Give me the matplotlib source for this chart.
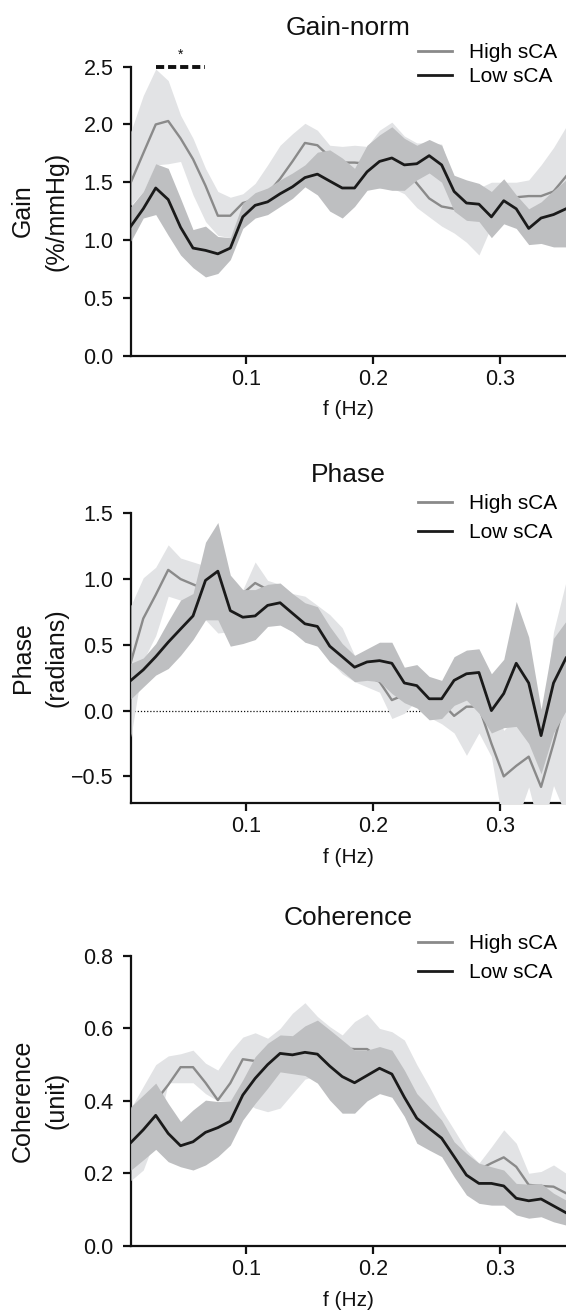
import matplotlib
matplotlib.use("Agg")
import matplotlib.pyplot as plt

plt.rcParams['font.family'] = ['Liberation Sans', 'DejaVu Sans']

# ---------------- data ----------------
freq = [0.0098, 0.0195, 0.0293, 0.0391, 0.0488, 0.0586, 0.0684, 0.0781, 0.0879,
        0.0977, 0.1074, 0.1172, 0.1270, 0.1367, 0.1465, 0.1563, 0.1660, 0.1758,
        0.1855, 0.1953, 0.2051, 0.2148, 0.2246, 0.2344, 0.2441, 0.2539, 0.2637,
        0.2734, 0.2832, 0.2930, 0.3027, 0.3125, 0.3223, 0.3320, 0.3418, 0.3516]

series_labels = ["High sCA", "Low sCA"]

# Gain-norm
gain_low = [1.12, 1.27, 1.45, 1.35, 1.11, 0.93, 0.91, 0.88, 0.93, 1.20, 1.30, 1.33,
            1.40, 1.46, 1.54, 1.57, 1.51, 1.45, 1.45, 1.59, 1.68, 1.71, 1.65, 1.66,
            1.73, 1.65, 1.42, 1.32, 1.31, 1.20, 1.34, 1.27, 1.10, 1.19, 1.22, 1.27]
gain_low_up = [1.29, 1.42, 1.66, 1.62, 1.36, 1.09, 1.12, 1.03, 1.02, 1.32, 1.41, 1.45,
               1.52, 1.58, 1.65, 1.76, 1.78, 1.71, 1.62, 1.82, 1.91, 1.98, 1.88, 1.82,
               1.87, 1.82, 1.56, 1.52, 1.49, 1.42, 1.53, 1.39, 1.27, 1.33, 1.43, 1.52]
gain_low_lo = [0.99, 1.19, 1.22, 1.04, 0.87, 0.76, 0.68, 0.71, 0.83, 1.10, 1.19, 1.22,
               1.29, 1.36, 1.46, 1.39, 1.25, 1.19, 1.29, 1.43, 1.45, 1.43, 1.43, 1.52,
               1.58, 1.50, 1.25, 1.17, 1.16, 1.02, 1.14, 1.10, 0.96, 0.97, 0.94, 0.94]
gain_high = [1.50, 1.75, 2.00, 2.03, 1.88, 1.70, 1.47, 1.21, 1.21, 1.32, 1.35, 1.40,
             1.53, 1.68, 1.84, 1.82, 1.72, 1.67, 1.67, 1.66, 1.68, 1.67, 1.62, 1.49,
             1.36, 1.29, 1.27, 1.26, 1.27, 1.30, 1.33, 1.37, 1.38, 1.38, 1.42, 1.55]
gain_high_up = [1.94, 2.25, 2.48, 2.38, 2.08, 1.88, 1.62, 1.42, 1.37, 1.40, 1.49, 1.65,
                1.82, 1.92, 2.01, 1.95, 1.82, 1.81, 1.82, 1.81, 1.95, 2.02, 1.90, 1.84,
                1.84, 1.83, 1.50, 1.47, 1.45, 1.50, 1.50, 1.50, 1.52, 1.65, 1.80, 1.98]
gain_high_lo = [1.30, 1.42, 1.65, 1.66, 1.68, 1.39, 1.16, 1.04, 1.02, 1.28, 1.35, 1.30,
                1.35, 1.45, 1.55, 1.55, 1.50, 1.48, 1.48, 1.47, 1.45, 1.45, 1.40, 1.28,
                1.20, 1.12, 1.06, 0.98, 0.87, 1.12, 1.18, 1.22, 1.22, 1.20, 1.20, 1.22]

# Phase
phase_low = [0.23, 0.31, 0.41, 0.52, 0.62, 0.72, 0.99, 1.06, 0.76, 0.71, 0.72, 0.80,
             0.82, 0.74, 0.66, 0.64, 0.49, 0.41, 0.33, 0.37, 0.38, 0.36, 0.21, 0.19,
             0.09, 0.09, 0.23, 0.28, 0.29, 0.00, 0.13, 0.36, 0.21, -0.19, 0.21, 0.40]
phase_low_up = [0.36, 0.40, 0.51, 0.68, 0.84, 0.89, 1.28, 1.43, 1.03, 0.92, 0.92, 0.96,
                0.97, 0.89, 0.82, 0.79, 0.64, 0.51, 0.42, 0.47, 0.52, 0.52, 0.33, 0.35,
                0.26, 0.23, 0.41, 0.46, 0.47, 0.28, 0.39, 0.83, 0.56, 0.01, 0.55, 0.68]
phase_low_lo = [0.09, 0.18, 0.27, 0.32, 0.42, 0.54, 0.69, 0.69, 0.49, 0.51, 0.54, 0.64,
                0.65, 0.60, 0.52, 0.49, 0.37, 0.30, 0.22, 0.23, 0.22, 0.13, 0.06, 0.02,
                -0.07, -0.06, 0.04, 0.08, -0.02, -0.17, -0.13, -0.12, -0.25, -0.48, -0.17, 0.00]
phase_high = [0.37, 0.70, 0.88, 1.07, 1.00, 0.96, 0.92, 0.87, 0.80, 0.89, 0.97, 0.92,
              0.82, 0.75, 0.68, 0.62, 0.50, 0.38, 0.30, 0.26, 0.22, 0.08, 0.12, 0.12,
              0.08, 0.06, -0.04, 0.03, 0.03, -0.25, -0.50, -0.42, -0.35, -0.58, -0.25, 0.10]
phase_high_up = [0.80, 1.01, 1.09, 1.26, 1.16, 1.13, 1.10, 1.00, 0.95, 0.92, 1.13, 0.99,
                 0.96, 0.89, 0.87, 0.80, 0.73, 0.63, 0.42, 0.40, 0.35, 0.30, 0.28, 0.25,
                 0.22, 0.20, 0.15, 0.18, 0.16, 0.05, -0.15, -0.05, 0.00, -0.15, 0.60, 0.98]
phase_high_lo = [-0.20, 0.38, 0.57, 0.87, 0.84, 0.80, 0.69, 0.59, 0.60, 0.70, 0.75, 0.70,
                 0.66, 0.60, 0.54, 0.49, 0.38, 0.28, 0.22, 0.18, 0.14, -0.06, -0.02, 0.08,
                 -0.05, -0.10, -0.17, -0.34, -0.17, -0.35, -0.90, -0.85, -0.58, -0.95, -0.57, -0.80]

# Coherence
coh_low = [0.285, 0.32, 0.36, 0.31, 0.276, 0.287, 0.313, 0.326, 0.344, 0.416, 0.462, 0.50,
           0.531, 0.527, 0.534, 0.529, 0.496, 0.467, 0.45, 0.47, 0.49, 0.474, 0.41, 0.352,
           0.324, 0.297, 0.246, 0.195, 0.172, 0.172, 0.165, 0.131, 0.124, 0.129, 0.11, 0.091]
coh_low_up = [0.384, 0.416, 0.449, 0.393, 0.343, 0.375, 0.402, 0.398, 0.40, 0.458, 0.522, 0.559,
              0.582, 0.58, 0.607, 0.623, 0.596, 0.568, 0.54, 0.54, 0.55, 0.54, 0.485, 0.42,
              0.384, 0.347, 0.287, 0.255, 0.228, 0.218, 0.209, 0.172, 0.17, 0.172, 0.145, 0.126]
coh_low_lo = [0.209, 0.237, 0.266, 0.232, 0.218, 0.209, 0.223, 0.246, 0.278, 0.347, 0.393, 0.435,
              0.48, 0.475, 0.47, 0.449, 0.402, 0.366, 0.366, 0.40, 0.42, 0.41, 0.357, 0.283,
              0.264, 0.246, 0.19, 0.14, 0.117, 0.112, 0.112, 0.085, 0.076, 0.08, 0.066, 0.057]
coh_high = [0.29, 0.34, 0.40, 0.444, 0.493, 0.493, 0.45, 0.402, 0.449, 0.515, 0.51, 0.53,
            0.53, 0.55, 0.54, 0.52, 0.52, 0.545, 0.543, 0.543, 0.52, 0.50, 0.45, 0.40,
            0.35, 0.31, 0.26, 0.22, 0.21, 0.228, 0.244, 0.218, 0.168, 0.165, 0.163, 0.145]
coh_high_up = [0.38, 0.44, 0.50, 0.524, 0.53, 0.54, 0.504, 0.485, 0.536, 0.576, 0.588, 0.573,
               0.60, 0.642, 0.671, 0.633, 0.605, 0.582, 0.619, 0.64, 0.60, 0.591, 0.568, 0.50,
               0.44, 0.375, 0.32, 0.264, 0.228, 0.273, 0.32, 0.283, 0.20, 0.205, 0.223, 0.20]
coh_high_lo = [0.18, 0.209, 0.30, 0.45, 0.45, 0.45, 0.42, 0.40, 0.40, 0.40, 0.38, 0.37,
               0.38, 0.42, 0.46, 0.47, 0.46, 0.44, 0.45, 0.43, 0.44, 0.42, 0.38, 0.33,
               0.28, 0.25, 0.21, 0.17, 0.13, 0.17, 0.18, 0.14, 0.12, 0.12, 0.11, 0.10]

gain_yticks = [0.0, 0.5, 1.0, 1.5, 2.0, 2.5]
phase_yticks = [-0.5, 0.0, 0.5, 1.0, 1.5]
coh_yticks = [0.0, 0.2, 0.4, 0.6, 0.8]
xticks = [0.1, 0.2, 0.3]
sig_range = [freq[2], freq[6]]

# ---------------- style ----------------
LIGHT = '#e2e3e5'
DARK = '#bebfc1'
HIGHC = '#8a8a8a'
LOWC = '#1a1a1a'
TICK_FS = 15.5
LAB_FS = 18
TITLE_FS = 19
LEG_FS = 15

fig = plt.figure(figsize=(5.66, 13.16), dpi=100)
L = 130.9 / 566
W = 1 - L
ax1 = fig.add_axes([L, 1 - 355.5 / 1316, W, 288.8 / 1316])
ax2 = fig.add_axes([L, 1 - 802.7 / 1316, W, 289.4 / 1316])
ax3 = fig.add_axes([L, 1 - 1245.7 / 1316, W, 289.7 / 1316])


def panel(ax, title, tpad, hi, hi_up, hi_lo, lo, lo_up, lo_lo, ylim, yticks,
          ylabel, leg_y, leg_sp):
    ax.fill_between(freq, hi_lo, hi_up, color=LIGHT, lw=0, zorder=3)
    ax.plot(freq, hi, color=HIGHC, lw=1.7, zorder=3.1, label=series_labels[0])
    ax.fill_between(freq, lo_lo, lo_up, color=DARK, lw=0, zorder=3.2)
    ax.plot(freq, lo, color=LOWC, lw=2.0, zorder=3.3, label=series_labels[1])
    ax.set_xlim(freq[0], freq[-1])
    ax.set_ylim(*ylim)
    ax.set_yticks(yticks)
    ax.set_yticklabels([f"{v:.1f}".replace('-', '\u2212') for v in yticks])
    ax.set_xticks(xticks)
    ax.set_xticklabels([f"{v:.1f}" for v in xticks])
    for s in ['top', 'right']:
        ax.spines[s].set_visible(False)
    for s in ['left', 'bottom']:
        ax.spines[s].set_linewidth(1.6)
        ax.spines[s].set_color('#111111')
    ax.tick_params(axis='both', direction='out', length=6, width=1.6,
                   color='#111111', labelsize=TICK_FS, labelcolor='#111111')
    ax.tick_params(axis='y', pad=6.5)
    ax.tick_params(axis='x', pad=3.5)
    ax.set_title(title, fontsize=TITLE_FS, pad=tpad, color='#111111')
    ax.set_ylabel(ylabel, fontsize=LAB_FS, color='#111111', linespacing=1.5)
    ax.yaxis.set_label_coords(-0.144, 0.5)
    ax.set_xlabel('f (Hz)', fontsize=15, color='#111111')
    ax.xaxis.set_label_coords(0.5, -0.155)
    leg = ax.legend(loc='center left', bbox_to_anchor=(0.66, leg_y), frameon=False,
                    fontsize=LEG_FS, handlelength=1.63, handletextpad=0.82,
                    borderpad=0, borderaxespad=0, labelspacing=leg_sp)
    for h in leg.get_lines():
        h.set_linewidth(2.0)


panel(ax1, 'Gain-norm', 23.0, gain_high, gain_high_up, gain_high_lo,
      gain_low, gain_low_up, gain_low_lo, (0, 2.5), gain_yticks,
      'Gain\n(%/mmHg)', 1.0064, 0.25)
panel(ax2, 'Phase', 22.5, phase_high, phase_high_up, phase_high_lo,
      phase_low, phase_low_up, phase_low_lo, (-0.7, 1.5), phase_yticks,
      'Phase\n(radians)', 0.9838, 0.48)
panel(ax3, 'Coherence', 22.0, coh_high, coh_high_up, coh_high_lo,
      coh_low, coh_low_up, coh_low_lo, (0, 0.8), coh_yticks,
      'Coherence\n(unit)', 0.9914, 0.48)

# zero reference line in phase panel
ax2.axhline(0, color='#111111', lw=0.9, ls=(0, (1, 1.5)), zorder=2)

# significance marker in gain panel
ax1.plot(sig_range, [2.5, 2.5], color='#111111', lw=2.8, ls=(0, (2.1, 1.0)),
         solid_capstyle='butt', dash_capstyle='butt', clip_on=False, zorder=6)
ax1.text(sum(sig_range) / 2, 2.60, '*', ha='center', va='center', fontsize=10,
         color='#111111', clip_on=False)

fig.savefig('out.png', dpi=100)
